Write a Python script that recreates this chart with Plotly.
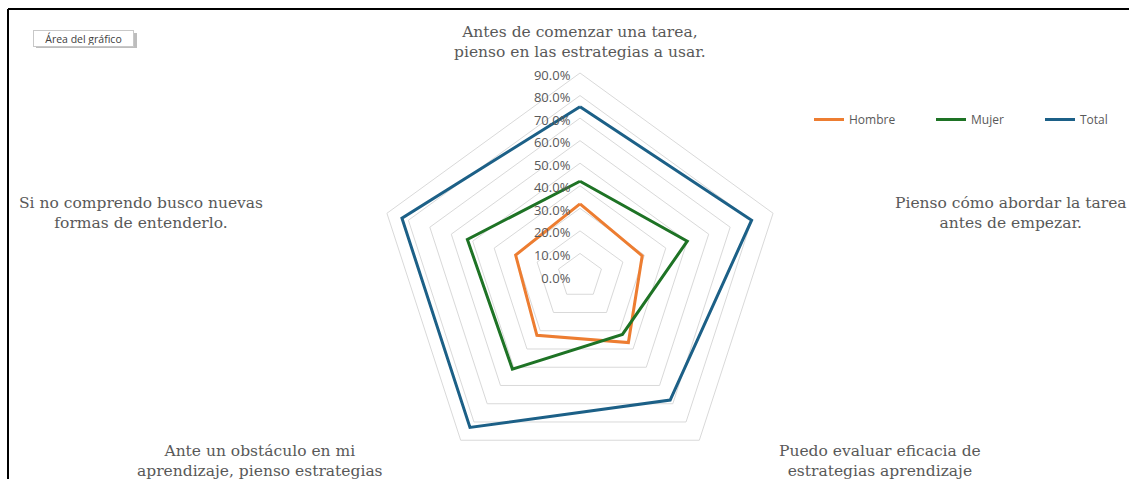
import plotly.graph_objects as go

categories = [
    "Antes de comenzar una tarea,<br>pienso en las estrategias a usar.",
    "Pienso cómo abordar la tarea<br>antes de empezar.",
    "Puedo evaluar eficacia de<br>estrategias aprendizaje",
    "Ante un obstáculo en mi<br>aprendizaje, pienso estrategias",
    "Si no comprendo busco nuevas<br>formas de entenderlo.",
]
hombre = [0.32, 0.29, 0.365, 0.325, 0.30]
mujer = [0.42, 0.50, 0.32, 0.51, 0.525]
total = [0.75, 0.80, 0.68, 0.83, 0.83]
series_names = ["Hombre", "Mujer", "Total"]
series_colors = ["#ED7D31", "#1E7325", "#1C6087"]
radial_ticks = [0.0, 0.1, 0.2, 0.3, 0.4, 0.5, 0.6, 0.7, 0.8, 0.9]

W, H = 1129, 479
cx, cy, R = 580, 276, 203  # pixel centre / radius of the radar
legend_keys = ["legend", "legend2", "legend3"]
legend_x = [809, 931, 1040]

fig = go.Figure()
for name, vals, col, lk in zip(series_names, [hombre, mujer, total], series_colors, legend_keys):
    fig.add_trace(go.Scatterpolar(
        r=vals + vals[:1],
        theta=categories + categories[:1],
        mode="lines",
        name=name,
        legend=lk,
        line=dict(color=col, width=3),
    ))

legend_style = dict(
    orientation="h", xanchor="left", yanchor="top",
    font=dict(family="Open Sans", size=12, color="#595959"),
    bgcolor="rgba(0,0,0,0)",
)

fig.update_layout(
    width=W, height=H,
    margin=dict(l=0, r=0, t=0, b=0),
    paper_bgcolor="white",
    plot_bgcolor="white",
    polar=dict(
        domain=dict(x=[(cx - R) / W, (cx + R) / W], y=[(H - cy - R) / H, (H - cy + R) / H]),
        bgcolor="white",
        gridshape="linear",
        radialaxis=dict(
            range=[0, 0.9],
            tickvals=radial_ticks,
            tickformat=".1%",
            angle=90,
            side="counterclockwise",
            showline=False,
            ticks="",
            gridcolor="#D9D9D9",
            gridwidth=1,
            tickfont=dict(family="Open Sans", size=13, color="#595959"),
        ),
        angularaxis=dict(
            rotation=90,
            direction="clockwise",
            showgrid=False,
            showline=True,
            linecolor="#D9D9D9",
            linewidth=1,
            ticks="",
            showticklabels=False,
        ),
    ),
    showlegend=True,
    legend=dict(x=legend_x[0] / W, y=1 - 105 / H, **legend_style),
    legend2=dict(x=legend_x[1] / W, y=1 - 105 / H, **legend_style),
    legend3=dict(x=legend_x[2] / W, y=1 - 105 / H, **legend_style),
)

# category labels
label_pos = [(580, 42, "center"), (1129, 213, "right"), (880, 461, "center"),
             (260, 461, "center"), (141, 213, "center")]
for text, (px, py, anc) in zip(categories, label_pos):
    fig.add_annotation(
        x=px / W, y=1 - py / H, xref="paper", yref="paper",
        text=text, showarrow=False, xanchor=anc, yanchor="middle",
        font=dict(family="DejaVu Serif", size=15.5, color="#595959"),
        align="center",
    )

# Excel tooltip "Área del gráfico" (shadow + box)
fig.add_shape(type="rect", xref="paper", yref="paper",
              x0=36 / W, x1=137 / W, y0=1 - 48 / H, y1=1 - 33 / H,
              line=dict(width=0), fillcolor="#BDBDBD")
fig.add_annotation(
    x=33 / W, y=1 - 38.5 / H, xref="paper", yref="paper",
    text="Área del gráfico", showarrow=False, xanchor="left", yanchor="middle",
    width=97, height=13,
    font=dict(family="Open Sans", size=10.5, color="#404040"),
    bgcolor="white", bordercolor="#C8C8C8", borderwidth=1, borderpad=1,
)

# frame lines
fig.add_shape(type="line", xref="paper", yref="paper",
              x0=8 / W, x1=1, y0=1 - 9 / H, y1=1 - 9 / H,
              line=dict(color="black", width=2))
fig.add_shape(type="line", xref="paper", yref="paper",
              x0=8 / W, x1=8 / W, y0=1 - 9 / H, y1=0,
              line=dict(color="black", width=2))

fig.write_html("out.html")
